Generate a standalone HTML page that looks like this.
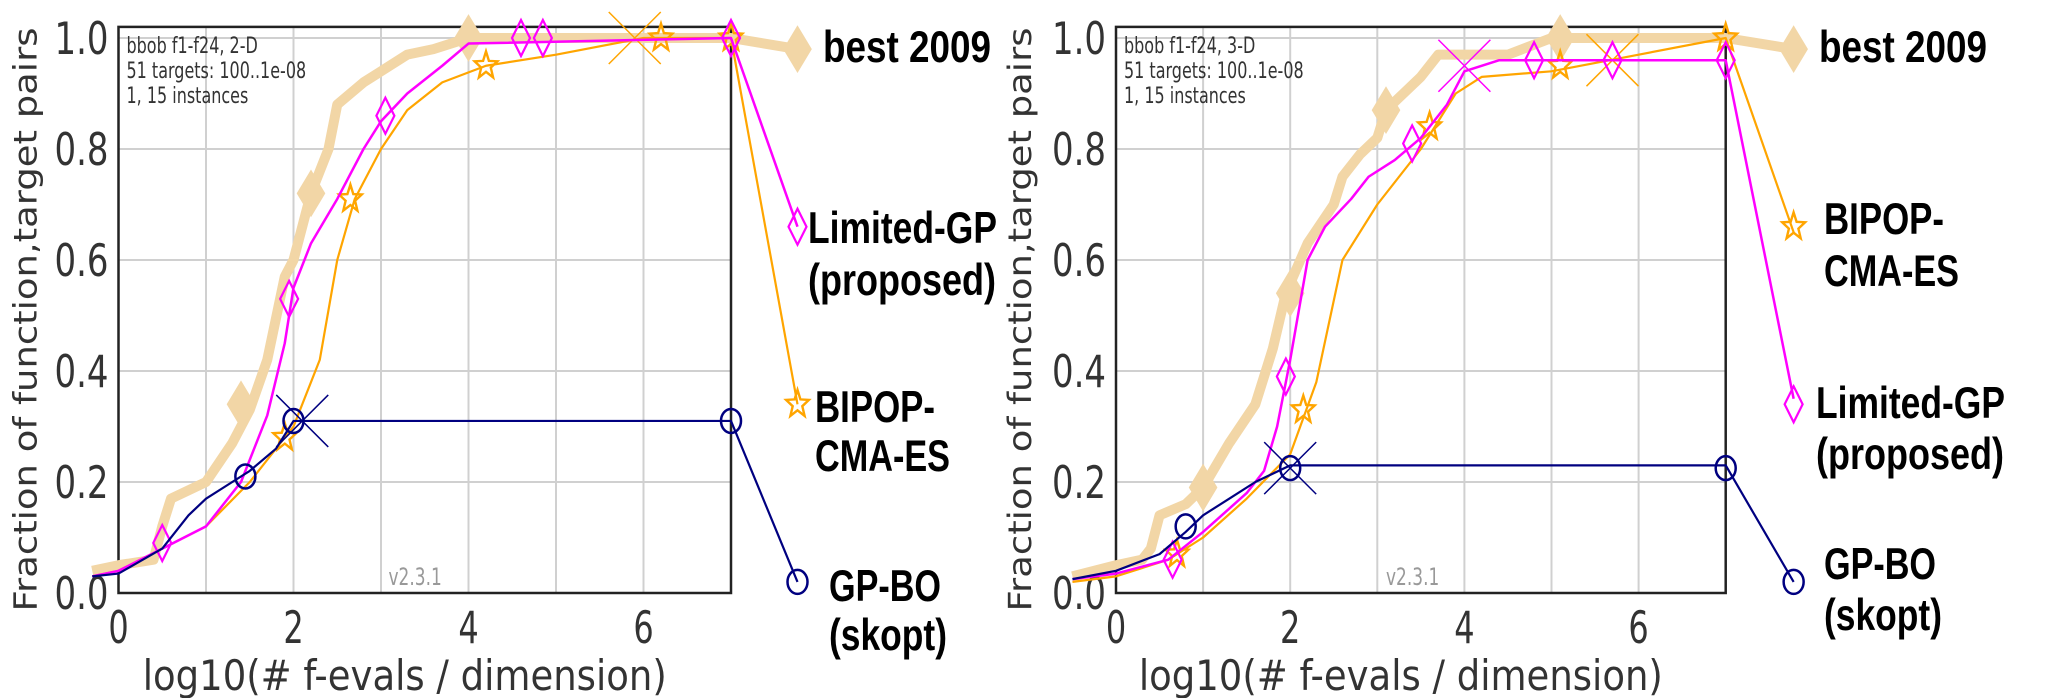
<!DOCTYPE html>
<html><head><meta charset="utf-8"><style>
html,body{margin:0;padding:0;background:#fff}
svg{display:block}
</style></head><body>
<svg id="chart" width="2054" height="698" viewBox="0 0 2054 698" xmlns="http://www.w3.org/2000/svg"></svg>
<script>
// ---- Data: left panel (2-D) ----
const L_best_x=[-0.3,0,0.4,0.5,0.6,1.0,1.3,1.5,1.7,1.9,2.0,2.2,2.4,2.5,2.8,3.0,3.3,3.6,4.0,7,7.76];
const L_best_y=[0.04,0.05,0.06,0.12,0.17,0.2,0.27,0.33,0.42,0.57,0.6,0.72,0.8,0.88,0.92,0.94,0.97,0.98,1.0,1.0,0.98];
const L_best_mx=[1.4,2.2,4.0,7.76];
const L_best_my=[0.34,0.72,1.0,0.98];
const L_lgp_x=[-0.3,0,0.5,1.0,1.4,1.7,1.9,2.0,2.2,2.5,2.8,3.0,3.3,3.7,4.0,7,7.76];
const L_lgp_y=[0.03,0.04,0.08,0.12,0.2,0.32,0.45,0.55,0.63,0.71,0.8,0.85,0.9,0.95,0.99,1.0,0.66];
const L_lgp_mx=[0.5,1.95,3.05,4.6,4.85,7,7.76];
const L_lgp_my=[0.09,0.53,0.86,1.0,1.0,1.0,0.66];
const L_cma_x=[-0.3,0,0.5,1.0,1.5,2.0,2.3,2.5,2.7,3.0,3.3,3.7,4.2,5,6,7,7.76];
const L_cma_y=[0.03,0.04,0.08,0.12,0.2,0.3,0.42,0.6,0.71,0.8,0.87,0.92,0.95,0.97,1.0,1.0,0.34];
const L_cma_mx=[1.9,2.65,4.2,6.2,7,7.76];
const L_cma_my=[0.28,0.71,0.95,1.0,1.0,0.34];
const L_cma_xx=[5.9], L_cma_xy=[1.0];
const L_gp_x=[-0.3,0,0.5,0.8,1.0,1.3,1.5,1.8,2.0,7,7.76];
const L_gp_y=[0.03,0.035,0.08,0.14,0.17,0.2,0.22,0.26,0.31,0.31,0.02];
const L_gp_mx=[1.45,2.0,7,7.76];
const L_gp_my=[0.21,0.31,0.31,0.02];
const L_gp_xx=[2.1], L_gp_xy=[0.31];
// ---- Data: right panel (3-D) ----
const R_best_x=[-0.5,0,0.3,0.4,0.5,0.8,1.0,1.3,1.6,1.8,1.95,2.2,2.5,2.6,2.8,3.0,3.1,3.5,3.7,4.5,5.0,7,7.78];
const R_best_y=[0.03,0.05,0.06,0.08,0.14,0.16,0.19,0.27,0.34,0.44,0.54,0.63,0.7,0.75,0.79,0.82,0.87,0.93,0.97,0.97,1.0,1.0,0.98];
const R_best_mx=[1.0,2.0,3.1,5.1,7.78];
const R_best_my=[0.19,0.54,0.87,1.0,0.98];
const R_lgp_x=[-0.5,0,0.6,1.0,1.5,1.7,1.85,2.0,2.2,2.4,2.7,2.9,3.2,3.5,3.8,4.0,4.4,7,7.78];
const R_lgp_y=[0.025,0.035,0.06,0.11,0.18,0.22,0.3,0.42,0.6,0.66,0.71,0.75,0.78,0.82,0.88,0.94,0.96,0.96,0.35];
const R_lgp_mx=[0.65,1.95,3.4,4.8,5.7,7,7.78];
const R_lgp_my=[0.06,0.39,0.81,0.96,0.96,0.96,0.34];
const R_lgp_xx=[4.0], R_lgp_xy=[0.95];
const R_cma_x=[-0.5,0,0.6,1.0,1.5,2.0,2.3,2.6,3.0,3.5,3.9,4.2,5,6,7,7.78];
const R_cma_y=[0.02,0.03,0.06,0.1,0.17,0.25,0.38,0.6,0.7,0.8,0.9,0.93,0.94,0.97,1.0,0.65];
const R_cma_mx=[0.7,2.15,3.6,5.1,7,7.78];
const R_cma_my=[0.07,0.33,0.84,0.95,1.0,0.66];
const R_cma_xx=[5.7], R_cma_xy=[0.96];
const R_gp_x=[-0.5,0,0.5,0.8,1.0,1.3,1.6,2.0,7,7.78];
const R_gp_y=[0.025,0.04,0.07,0.11,0.14,0.17,0.2,0.23,0.23,0.02];
const R_gp_mx=[0.8,2.0,7,7.78];
const R_gp_my=[0.12,0.225,0.225,0.02];
const R_gp_xx=[2.0], R_gp_xy=[0.225];
const xTicks=[0,2,4,6];
const yTicks=[0.0,0.2,0.4,0.6,0.8,1.0];
const yTickLabels=["0.0","0.2","0.4","0.6","0.8","1.0"];

const NS="http://www.w3.org/2000/svg";
const svg=document.getElementById('chart');
function mk(tag,attrs,parent){const e=document.createElementNS(NS,tag);for(const k in attrs)e.setAttribute(k,attrs[k]);(parent||svg).appendChild(e);return e;}
function txt(g,x,y,s,attrs,sy,rot){
  const a=Object.assign({x:0,y:0},attrs);
  a.transform=`translate(${x},${y})`+(rot?` rotate(${rot})`:` scale(1,${sy})`);
  const t=mk('text',a,g);t.textContent=s;return t;
}

function panel(p){
  const g=mk('g',{});
  
  
  const X=v=>p.x0+v*p.ux, Y=v=>p.y0-v*p.uy;
  for(let i=1;i<=6;i++){const l=mk('line',{x1:X(i),x2:X(i),y1:Y(1.02),y2:Y(0),stroke:'#d0d0d0','stroke-width':2},g);
    }
  for(const t of yTicks.slice(1)){const l=mk('line',{x1:X(0),x2:X(7),y1:Y(t),y2:Y(t),stroke:'#d0d0d0','stroke-width':2},g);
    }
  const b=mk('rect',{x:X(0),y:Y(1.02),width:X(7)-X(0),height:Y(0)-Y(1.02),fill:'none',stroke:'#222','stroke-width':2.5},g);
  
  xTicks.forEach(t=>{const tx=txt(g,X(t),643,String(t),{'font-family':'DejaVu Sans, sans-serif','font-size':32,'text-anchor':'middle',fill:'#333'},1.4);
    });
  yTicks.forEach((t,i)=>{const tx=txt(g,X(0)-10,Y(t)+16,yTickLabels[i],{'font-family':'DejaVu Sans, sans-serif','font-size':32,'text-anchor':'end',fill:'#333',textLength:54,lengthAdjust:'spacingAndGlyphs'},1.4);
    });
  const yt=txt(g,p.x0-p.tx,Y(0.5)+4,'Fraction of function,target pairs',{'font-family':'DejaVu Sans, sans-serif','font-size':32,'text-anchor':'middle',fill:'#333',textLength:584,lengthAdjust:'spacingAndGlyphs'},1,-90);
  
  const xt=txt(g,X(3.5)-20,690,'log10(# f-evals / dimension)',{'font-family':'DejaVu Sans, sans-serif','font-size':30,'text-anchor':'middle',fill:'#333',textLength:524,lengthAdjust:'spacingAndGlyphs'},1.4);
  
  p.info.forEach((s,i)=>{const t=txt(g,X(0)+8,Y(1.02)+26+i*25,s,{'font-family':'DejaVu Sans, sans-serif','font-size':16,fill:'#333'},1.4);
    });
  const v=txt(g,X(0)+p.vx,585,'v2.3.1',{'font-family':'DejaVu Sans, sans-serif','font-size':17,fill:'#999'},1.4);
  
  p.series.forEach(s=>{
    const pts=s.x.map((xv,i)=>X(xv)+','+Y(s.y[i])).join(' ');
    const pl=mk('polyline',{points:pts,fill:'none',stroke:s.c,'stroke-width':s.w,'stroke-linejoin':'round'},g);
    
    s.mx.forEach((xv,i)=>{
      const cx=X(xv),cy=Y(s.my[i]);let m;
      const dw=s.dw||9, dh=s.dh||18;
      if(s.m==='d') m=mk('polygon',{points:`${cx},${cy-dh} ${cx+dw},${cy} ${cx},${cy+dh} ${cx-dw},${cy}`,fill:s.fill||'none',stroke:s.c,'stroke-width':s.mw||2.2},g);
      else if(s.m==='o') m=mk('ellipse',{cx,cy,rx:10,ry:12,fill:'none',stroke:s.c,'stroke-width':2.5},g);
      else { let d='';for(let k=0;k<10;k++){const r=k%2?5:12,a=-Math.PI/2+k*Math.PI/5;d+=(k?'L':'M')+(cx+r*Math.cos(a)).toFixed(1)+','+(cy+r*Math.sin(a)*1.2).toFixed(1);}
        m=mk('path',{d:d+'Z',fill:'none',stroke:s.c,'stroke-width':2.4},g);}
      
    });
    (s.xx||[]).forEach((xv,i)=>{const cx=X(xv),cy=Y(s.xy[i]);
      const m=mk('path',{d:`M${cx-26},${cy-26}L${cx+26},${cy+26}M${cx-26},${cy+26}L${cx+26},${cy-26}`,stroke:s.c,'stroke-width':1.5,fill:'none'},g);
      });
  });
  p.labels.forEach(l=>{const t=txt(g,l[0],l[1],l[2],{'font-family':'Liberation Sans Narrow, Liberation Sans, sans-serif','font-weight':'bold','font-size':32,fill:'#000',textLength:l[3],lengthAdjust:'spacingAndGlyphs'},1.4);
    });
}
const BEST='#f2d6a6';
panel({name:'panel-2d',x0:118.5,ux:87.5,y0:593,uy:555,vx:270,tx:82,info:['bbob f1-f24, 2-D','51 targets: 100..1e-08','1, 15 instances'],
  series:[
    {n:'best-2009',x:L_best_x,y:L_best_y,c:BEST,w:10,mx:L_best_mx,my:L_best_my,m:'d',fill:BEST,mw:4,dw:12,dh:20},
    {n:'bipop-cma-es',x:L_cma_x,y:L_cma_y,c:'#ffa500',w:2.2,mx:L_cma_mx,my:L_cma_my,m:'s',xx:L_cma_xx,xy:L_cma_xy},
    {n:'limited-gp',x:L_lgp_x,y:L_lgp_y,c:'#ff00ff',w:2.5,mx:L_lgp_mx,my:L_lgp_my,m:'d'},
    {n:'gp-bo',x:L_gp_x,y:L_gp_y,c:'#000080',w:2.2,mx:L_gp_mx,my:L_gp_my,m:'o',xx:L_gp_xx,xy:L_gp_xy}],
  labels:[[823,62,'best 2009',168],[808,243,'Limited-GP',189],[808,295,'(proposed)',188],[815,422,'BIPOP-',120],[815,471,'CMA-ES',135],[829,601,'GP-BO',112],[829,650,'(skopt)',118]]});
panel({name:'panel-3d',x0:1116,ux:87.1,y0:593,uy:555,vx:270,tx:85,info:['bbob f1-f24, 3-D','51 targets: 100..1e-08','1, 15 instances'],
  series:[
    {n:'best-2009',x:R_best_x,y:R_best_y,c:BEST,w:10,mx:R_best_mx,my:R_best_my,m:'d',fill:BEST,mw:4,dw:12,dh:20},
    {n:'bipop-cma-es',x:R_cma_x,y:R_cma_y,c:'#ffa500',w:2.2,mx:R_cma_mx,my:R_cma_my,m:'s',xx:R_cma_xx,xy:R_cma_xy},
    {n:'limited-gp',x:R_lgp_x,y:R_lgp_y,c:'#ff00ff',w:2.5,mx:R_lgp_mx,my:R_lgp_my,m:'d',xx:R_lgp_xx,xy:R_lgp_xy},
    {n:'gp-bo',x:R_gp_x,y:R_gp_y,c:'#000080',w:2.2,mx:R_gp_mx,my:R_gp_my,m:'o',xx:R_gp_xx,xy:R_gp_xy}],
  labels:[[1819,62,'best 2009',168],[1824,234,'BIPOP-',120],[1824,286,'CMA-ES',135],[1816,418,'Limited-GP',189],[1816,469,'(proposed)',188],[1824,579,'GP-BO',112],[1824,630,'(skopt)',118]]});
</script>
</body></html>
